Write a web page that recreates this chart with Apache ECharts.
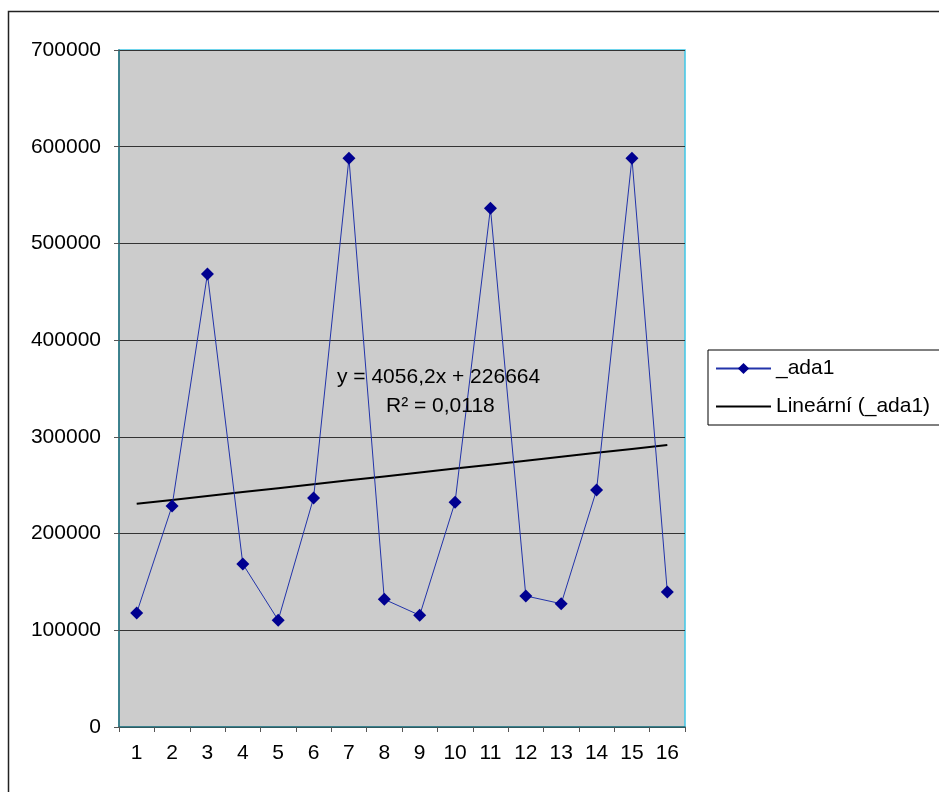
<!DOCTYPE html>
<html>
<head>
<meta charset="utf-8">
<script src="https://cdn.jsdelivr.net/npm/echarts@6/dist/echarts.min.js"></script>
<style>
html,body{margin:0;padding:0;background:#fff;}
#chart{width:939px;height:792px;}
</style>
</head>
<body>
<div id="chart"></div>
<script>
var categories = ['1','2','3','4','5','6','7','8','9','10','11','12','13','14','15','16'];
var ada1 = [118000, 228500, 468500, 168500, 110500, 236800, 588000, 132000, 115500, 232500, 536500, 135500, 127500, 245000, 588000, 139500];
var trendSlope = 4056.2;
var trendIntercept = 226664;
var trendValues = categories.map(function (c) { return trendSlope * Number(c) + trendIntercept; });
var seriesNames = ['_ada1', 'Lineární (_ada1)'];
var equationLines = ['y = 4056,2x + 226664', 'R\u00b2 = 0,0118'];

var chart = echarts.init(document.getElementById('chart'), null, {renderer: 'canvas'});
var font = 'Liberation Sans, Arial, sans-serif';
chart.setOption({
  animation: false,
  textStyle: {fontFamily: font},
  grid: {
    left: 119, top: 50, width: 566, height: 677,
    show: true, backgroundColor: '#cccccc', borderColor: '#3fc6e6', borderWidth: 1.5
  },
  xAxis: {
    type: 'category',
    data: categories,
    boundaryGap: true,
    axisLine: {lineStyle: {color: '#2f6870', width: 1.5}},
    axisTick: {show: true, length: 5, lineStyle: {color: '#555'}},
    axisLabel: {color: '#000', fontSize: 21, margin: 16, fontFamily: font, interval: 0},
    splitLine: {show: false}
  },
  yAxis: {
    type: 'value',
    min: 0, max: 700000, interval: 100000,
    axisLine: {show: true, lineStyle: {color: '#2f6870', width: 1.5}},
    axisTick: {show: true, length: 5, lineStyle: {color: '#555'}},
    axisLabel: {color: '#000', fontSize: 21, margin: 18, fontFamily: font, formatter: function (v) { return String(v); }},
    splitLine: {show: true, lineStyle: {color: '#333', width: 1.2}}
  },
  legend: {
    orient: 'vertical',
    left: 708, top: 350,
    padding: [8, 12, 8, 7],
    itemWidth: 55, itemHeight: 14, itemGap: 17,
    borderColor: '#000', borderWidth: 1,
    textStyle: {color: '#000', fontSize: 21, fontFamily: font},
    data: [
      {name: seriesNames[0]},
      {name: seriesNames[1], icon: 'path://M0,0 L55,0 L55,2 L0,2 Z'}
    ]
  },
  graphic: [
    {type: 'rect', shape: {x: 8.5, y: 11.5, width: 940, height: 790}, style: {fill: 'none', stroke: '#222', lineWidth: 1.5}, silent: true, z: -1},
    {type: 'text', left: 337, top: 367, style: {text: equationLines[0], fill: '#000', font: '21px ' + font}, z: 100},
    {type: 'text', left: 386, top: 396, style: {text: equationLines[1], fill: '#000', font: '21px ' + font}, z: 100}
  ],
  series: [
    {
      name: seriesNames[0],
      type: 'line',
      data: ada1,
      symbol: 'diamond',
      symbolSize: 13,
      itemStyle: {color: '#000090'},
      lineStyle: {color: '#2233aa', width: 1},
      z: 3
    },
    {
      name: seriesNames[1],
      type: 'line',
      data: trendValues,
      symbol: 'none',
      itemStyle: {color: '#000'},
      lineStyle: {color: '#000', width: 2},
      z: 2
    }
  ]
});
</script>
</body>
</html>
